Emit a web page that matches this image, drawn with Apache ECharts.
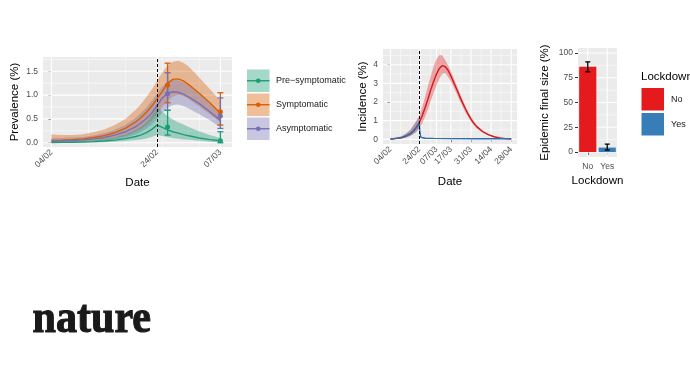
<!DOCTYPE html>
<html><head><meta charset="utf-8">
<script src="https://cdn.jsdelivr.net/npm/echarts@6/dist/echarts.min.js"></script>
<style>html,body{margin:0;padding:0;background:#fff}#c{width:690px;height:388px}</style>
</head><body><div id="c"></div>
<script>
// ---------- Panel 1: prevalence (days since 04/02) ----------
const p1Days = [0,2,4,6,8,10,12,14,16,17,18,19,20,21,22,23,24,25,26,28,30,32];
const symMean = [0.05,0.055,0.065,0.08,0.11,0.15,0.21,0.3,0.44,0.53,0.64,0.77,0.92,1.08,1.25,1.33,1.34,1.3,1.22,1.04,0.84,0.62];
const symLo   = [0.01,0.012,0.015,0.02,0.035,0.055,0.09,0.14,0.23,0.29,0.37,0.47,0.6,0.75,0.88,0.97,1.0,0.98,0.92,0.76,0.6,0.43];
const symHi   = [0.17,0.16,0.16,0.18,0.22,0.28,0.37,0.5,0.7,0.82,0.96,1.12,1.3,1.48,1.62,1.7,1.72,1.68,1.6,1.37,1.13,0.88];
const asyMean = [0.03,0.035,0.045,0.06,0.08,0.11,0.16,0.23,0.34,0.42,0.51,0.62,0.78,0.94,1.04,1.07,1.06,1.02,0.96,0.82,0.65,0.47];
const asyLo   = [0.005,0.007,0.01,0.015,0.025,0.04,0.07,0.11,0.18,0.23,0.3,0.38,0.5,0.63,0.74,0.79,0.8,0.77,0.72,0.6,0.47,0.32];
const asyHi   = [0.1,0.1,0.11,0.12,0.15,0.2,0.27,0.37,0.53,0.63,0.74,0.88,1.03,1.18,1.28,1.32,1.31,1.27,1.2,1.03,0.83,0.62];
const preMean = [0.005,0.007,0.01,0.015,0.022,0.035,0.055,0.085,0.13,0.165,0.21,0.28,0.37,0.32,0.27,0.23,0.2,0.17,0.145,0.1,0.065,0.04];
const preLo   = [0,0.001,0.002,0.004,0.007,0.012,0.02,0.035,0.055,0.07,0.09,0.12,0.16,0.14,0.12,0.1,0.085,0.07,0.06,0.04,0.02,0.01];
const preHi   = [0.02,0.022,0.025,0.035,0.05,0.075,0.11,0.17,0.27,0.34,0.43,0.56,0.75,0.65,0.56,0.49,0.43,0.38,0.33,0.24,0.16,0.1];
const obsDays = [22,32];
const symObs = [1.21,0.65], symObsLo = [0.84,0.37], symObsHi = [1.67,1.05];
const asyObs = [1.03,0.56], asyObsLo = [0.68,0.30], asyObsHi = [1.47,0.94];
const preObs = [0.33,0.04], preObsLo = [0.16,0.0],  preObsHi = [0.68,0.23];
const p1Ticks = [0,20,32], p1TickLabels = ['04/02','24/02','07/03'];
const p1YTicks = [0,0.5,1,1.5];

// ---------- Panel 2: incidence ----------
const p2Days = [0,2,4,6,8,10,12,14,16,18,20,22,24,26,28,30,32,34,36,38,40,42,44,46,48,50,52,54,56,58,60,64,68,72,76,80,84];
const noMean = [0.02,0.03,0.05,0.07,0.1,0.15,0.22,0.31,0.45,0.64,0.9,1.25,1.68,2.15,2.65,3.1,3.5,3.8,3.95,3.9,3.7,3.4,3.05,2.7,2.33,1.98,1.65,1.35,1.08,0.86,0.68,0.42,0.25,0.14,0.08,0.04,0.02];
const noHi   = [0.04,0.05,0.08,0.12,0.18,0.27,0.38,0.53,0.74,0.98,1.25,1.7,2.25,2.85,3.4,3.9,4.3,4.52,4.5,4.25,3.98,3.65,3.28,2.9,2.52,2.15,1.8,1.48,1.2,0.96,0.76,0.47,0.29,0.17,0.1,0.06,0.03];
const noLo   = [0.01,0.015,0.025,0.04,0.06,0.09,0.13,0.19,0.28,0.4,0.6,0.85,1.2,1.6,2.05,2.5,2.9,3.25,3.5,3.55,3.35,3.1,2.78,2.45,2.1,1.78,1.47,1.2,0.96,0.76,0.6,0.36,0.2,0.11,0.06,0.03,0.01];
const lockDays = [0,2,4,6,8,10,12,14,16,18,20,20.5,21,22,24,30,40,60,84];
const lockMean = [0.02,0.03,0.05,0.07,0.1,0.15,0.22,0.31,0.45,0.64,0.85,0.4,0.12,0.08,0.06,0.05,0.04,0.03,0.03];
const lockLo   = [0.01,0.015,0.025,0.04,0.06,0.09,0.13,0.19,0.28,0.4,0.58,0.25,0.07,0.05,0.04,0.03,0.02,0.02,0.02];
const lockHi   = [0.04,0.05,0.08,0.12,0.18,0.27,0.38,0.53,0.74,0.98,1.2,0.55,0.16,0.11,0.08,0.07,0.06,0.05,0.05];
const p2Ticks = [0,20,32,42,56,70,84], p2TickLabels = ['04/02','24/02','07/03','17/03','31/03','14/04','28/04'];
const p2YTicks = [0,1,2,3,4];

// ---------- Panel 3: final size ----------
const lockCats = ['No','Yes'];
const finalSize = [86,4.5], finalLo = [81,2], finalHi = [91,8];
const p3YTicks = [0,25,50,75,100];

const FONT = '"Liberation Sans", Arial, sans-serif';
const C = {pre:'#1B9E77', sym:'#D95F02', asy:'#7570B3', no:'#E41A1C', yes:'#377EB8'};
function rgba(hex,a){const n=parseInt(hex.slice(1),16);return `rgba(${n>>16},${(n>>8)&255},${n&255},${a})`;}
function zip(xs,ys){return xs.map((x,i)=>[x,ys[i]]);}

function gridSeries(i, xMaj, xMin, yMaj, yMin){
  return {type:'custom', xAxisIndex:i, yAxisIndex:i, z:1, silent:true, data:[[0,0]],
    renderItem(params, api){
      const cs = params.coordSys, ch=[];
      const v=(vals,w)=>vals.forEach(x=>{const px=api.coord([x,0])[0];ch.push({type:'line',shape:{x1:px,y1:cs.y,x2:px,y2:cs.y+cs.height},style:{stroke:'#fff',lineWidth:w}});});
      const h=(vals,w)=>vals.forEach(y=>{const py=api.coord([0,y])[1];ch.push({type:'line',shape:{x1:cs.x,y1:py,x2:cs.x+cs.width,y2:py},style:{stroke:'#fff',lineWidth:w}});});
      v(xMin,0.5); h(yMin,0.5); v(xMaj,1.1); h(yMaj,1.1);
      return {type:'group', children:ch};
    }};
}
function bandSeries(i, xs, lo, hi, color, z){
  return {type:'custom', xAxisIndex:i, yAxisIndex:i, z, silent:true, clip:true,
    data: xs.map((x,k)=>[x,lo[k],hi[k]]), encode:{x:0,y:[1,2]},
    renderItem(params, api){
      if(params.dataIndex!==0) return null;
      const pts=[];
      for(let k=0;k<xs.length;k++) pts.push(api.coord([xs[k],hi[k]]));
      for(let k=xs.length-1;k>=0;k--) pts.push(api.coord([xs[k],lo[k]]));
      return {type:'polygon', shape:{points:pts}, style:{fill:color}};
    }};
}
function lineSeries(i, xs, ys, color, z, extra){
  return Object.assign({type:'line', xAxisIndex:i, yAxisIndex:i, z, data:zip(xs,ys), showSymbol:false, silent:true,
    lineStyle:{color, width:1.4}, itemStyle:{color}}, extra||{});
}
function errSeries(i, xs, lo, hi, color, cap, lw, z){
  return {type:'custom', xAxisIndex:i, yAxisIndex:i, z, silent:true,
    data: xs.map((x,k)=>[x,lo[k],hi[k]]), encode:{x:0,y:[1,2]},
    renderItem(params, api){
      const x=api.value(0), a=api.coord([x,api.value(1)]), b=api.coord([x,api.value(2)]);
      const st={stroke:color,lineWidth:lw};
      return {type:'group',children:[
        {type:'line',shape:{x1:a[0],y1:a[1],x2:b[0],y2:b[1]},style:st},
        {type:'line',shape:{x1:a[0]-cap,y1:a[1],x2:a[0]+cap,y2:a[1]},style:st},
        {type:'line',shape:{x1:b[0]-cap,y1:b[1],x2:b[0]+cap,y2:b[1]},style:st}]};
    }};
}
function pointSeries(i, xs, ys, color){
  return {type:'scatter', xAxisIndex:i, yAxisIndex:i, z:6, silent:true, data:zip(xs,ys), symbolSize:5, itemStyle:{color, opacity:1}};
}
const dashMark = {silent:true, symbol:'none', label:{show:false}, lineStyle:{type:[3,2], color:'#000', width:1}, data:[{xAxis:20}]};

const nameStyle = {fontSize:11.5, color:'#000', fontFamily:FONT};
const tickLabel = {fontSize:8.5, color:'#4D4D4D', fontFamily:FONT};
function dateAxis(gi, min, max, ticks, labels, gap){
  return {type:'value', gridIndex:gi, min, max, name:'Date', nameLocation:'middle', nameGap:gap, nameTextStyle:nameStyle,
    splitLine:{show:false}, axisLine:{show:false},
    axisTick:{show:true, length:3, customValues:ticks, lineStyle:{color:'#333', width:1}},
    axisLabel:Object.assign({customValues:ticks, rotate:45, margin:4, formatter:v=>{const k=ticks.indexOf(v);return k<0?'':labels[k];}}, tickLabel)};
}
function valAxis(gi, min, max, ticks, fmt, name, gap){
  return {type:'value', gridIndex:gi, min, max, name, nameLocation:'middle', nameGap:gap, nameRotate:90, nameTextStyle:nameStyle,
    splitLine:{show:false}, axisLine:{show:false},
    axisTick:{show:true, length:3, customValues:ticks, lineStyle:{color:'#333', width:1}},
    axisLabel:Object.assign({customValues:ticks, margin:5, formatter:fmt}, tickLabel)};
}

// legend graphics
const g = [];
const leg1 = [['Pre\u2212symptomatic',C.pre],['Symptomatic',C.sym],['Asymptomatic',C.asy]];
leg1.forEach((d,k)=>{
  const y = 69.5 + k*24;
  g.push({type:'rect', shape:{x:247,y:y,width:22.5,height:22.5}, style:{fill:rgba(d[1],0.4)}});
  g.push({type:'line', shape:{x1:247,y1:y+11.25,x2:269.5,y2:y+11.25}, style:{stroke:d[1],lineWidth:1.4}});
  g.push({type:'circle', shape:{cx:258.25,cy:y+11.25,r:2.3}, style:{fill:d[1]}});
  g.push({type:'text', x:276, y:y+11.25, style:{text:d[0], fill:'#1a1a1a', font:'9px '+FONT, verticalAlign:'middle'}});
});
g.push({type:'text', x:641, y:77, style:{text:'Lockdown', fill:'#000', font:'11.5px '+FONT, verticalAlign:'middle'}});
[[ 'No', C.no],[ 'Yes', C.yes]].forEach((d,k)=>{
  const y = 88 + k*25;
  g.push({type:'rect', shape:{x:641.5,y:y,width:22.5,height:22.5}, style:{fill:d[1]}});
  g.push({type:'text', x:671, y:y+11.25, style:{text:d[0], fill:'#1a1a1a', font:'9px '+FONT, verticalAlign:'middle'}});
});
g.push({type:'text', x:32.5, y:320, scaleX:0.915, style:{text:'nature', fill:'#1a1a1a', stroke:'#1a1a1a', lineWidth:1.1, font:'bold 46px "Liberation Serif", "Times New Roman", serif', verticalAlign:'middle'}});

const option = {
  animation:false,
  backgroundColor:'#fff',
  grid:[
    {left:43, top:57, width:189, height:90, show:true, backgroundColor:'#EBEBEB', borderWidth:0},
    {left:383, top:49, width:134, height:95, show:true, backgroundColor:'#EBEBEB', borderWidth:0},
    {left:578, top:48, width:39, height:109, show:true, backgroundColor:'#EBEBEB', borderWidth:0}
  ],
  xAxis:[
    dateAxis(0, -1.6, 34.2, p1Ticks, p1TickLabels, 30),
    dateAxis(1, -5.2, 88, p2Ticks, p2TickLabels, 32),
    {type:'category', gridIndex:2, data:lockCats, name:'Lockdown', nameLocation:'middle', nameGap:18, nameTextStyle:nameStyle,
     axisLine:{show:false}, splitLine:{show:false}, axisTick:{show:true, length:3, alignWithLabel:true, lineStyle:{color:'#333'}},
     axisLabel:Object.assign({margin:5}, tickLabel)}
  ],
  yAxis:[
    valAxis(0, -0.09, 1.8, p1YTicks, v=>v.toFixed(1), 'Prevalence (%)', 22),
    valAxis(1, -0.25, 4.84, p2YTicks, v=>String(v), 'Incidence (%)', 14),
    valAxis(2, -5, 105, p3YTicks, v=>String(v), 'Epidemic final size (%)', 27)
  ],
  graphic:g,
  series:[
    gridSeries(0, p1Ticks, [7,14,21,28], p1YTicks, [0.25,0.75,1.25,1.75]),
    bandSeries(0, p1Days, symLo, symHi, rgba(C.sym,0.38), 2),
    bandSeries(0, p1Days, asyLo, asyHi, rgba(C.asy,0.38), 2),
    bandSeries(0, p1Days, preLo, preHi, rgba(C.pre,0.38), 2),
    lineSeries(0, p1Days, symMean, C.sym, 3),
    lineSeries(0, p1Days, asyMean, C.asy, 3),
    lineSeries(0, p1Days, preMean, C.pre, 3, {markLine:dashMark}),
    errSeries(0, obsDays, symObsLo, symObsHi, C.sym, 3, 1.3, 4),
    errSeries(0, obsDays, asyObsLo, asyObsHi, C.asy, 3, 1.3, 4),
    errSeries(0, obsDays, preObsLo, preObsHi, C.pre, 3, 1.3, 4),
    pointSeries(0, obsDays, symObs, C.sym),
    pointSeries(0, obsDays, asyObs, C.asy),
    pointSeries(0, obsDays, preObs, C.pre),

    gridSeries(1, p2Ticks, [7,14,21,28,35,49,63,77], p2YTicks, [0.5,1.5,2.5,3.5,4.5]),
    bandSeries(1, p2Days, noLo, noHi, rgba(C.no,0.35), 2),
    bandSeries(1, lockDays, lockLo, lockHi, rgba(C.yes,0.35), 2),
    lineSeries(1, p2Days, noMean, '#D01A1F', 3, {markLine:dashMark}),
    lineSeries(1, lockDays, lockMean, '#2F6FAE', 3),

    gridSeries(2, [0,1], [], p3YTicks, [12.5,37.5,62.5,87.5]),
    {type:'bar', xAxisIndex:2, yAxisIndex:2, z:2, silent:true, barWidth:'88%',
     data: finalSize.map((v,k)=>({value:v, itemStyle:{color:[C.no,C.yes][k]}}))},
    errSeries(2, [0,1], finalLo, finalHi, '#000', 2.5, 1.3, 4)
  ]
};
const chart = echarts.init(document.getElementById('c'));
chart.setOption(option);
</script></body></html>
